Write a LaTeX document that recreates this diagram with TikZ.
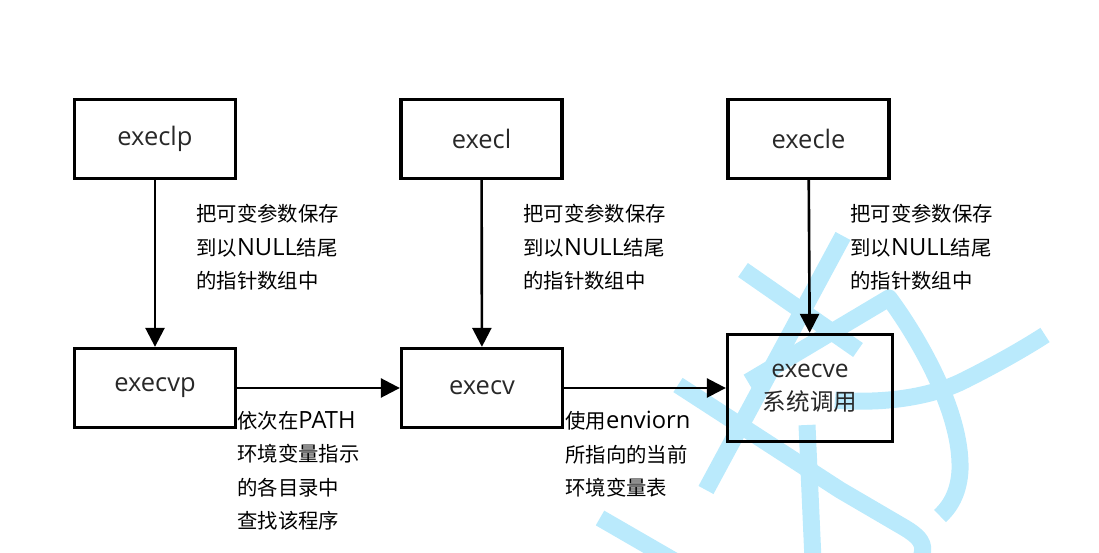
\documentclass[tikz,border=0pt]{standalone}
\usepackage{fontspec}
\setmainfont{Open Sans}
\newfontfamily\cjkfont{Noto Sans CJK SC}
% CJK runs inside mixed labels
\newcommand\zh[1]{{\cjkfont\fontsize{11.6}{19}\selectfont #1}}
\newcommand\zhbig[1]{{\cjkfont\fontsize{13.4}{20}\selectfont #1}}
\usetikzlibrary{arrows.meta}
\definecolor{wmblue}{RGB}{186,234,252}
\definecolor{labelgray}{RGB}{40,40,40}

\begin{document}
\begin{tikzpicture}[x=0.02cm,y=-0.02cm,
  fnbox/.style={draw=black, line width=1.9pt, minimum width=3.22cm,
    minimum height=1.58cm, inner sep=0pt, text=labelgray,
    font=\fontsize{14.5}{18}\selectfont},
  flow/.style={line width=1.5pt, -{Triangle[length=0.38cm,width=0.38cm]}},
  note/.style={anchor=north west, align=left, inner sep=0pt,
    font=\fontsize{13.5}{19}\selectfont},
  wm/.style={draw=wmblue, line width=0.34cm, line join=round}
]
\useasboundingbox (0,0) rectangle (1099,553);

% background stamp strokes
\draw[wm] (743,270) -- (858,350);
\draw[wm] (843,236) -- (706,490);
\draw[wm] (748,382) -- (889,298) .. controls (915,333) and (962,410) .. (960,470)
  .. controls (959,490) and (952,505) .. (940,516);
\draw[wm] (835,400) .. controls (880,404) and (930,398) .. (965,380)
  .. controls (995,365) and (1025,348) .. (1045,335);
\draw[wm] (678,385) -- (840,490) -- (905,528) .. controls (925,540) and (925,548) .. (920,560);
\draw[wm] (600,518) -- (690,570);
\draw[wm] (807,425) -- (813,560);

% function boxes
\node[fnbox] (execlp) at (155,139) {execlp};
\node[fnbox] (execl)  at (481.5,139) {execl};
\node[fnbox] (execle) at (808.5,139) {execle};
\node[fnbox] (execvp) at (155,388) {execvp};
\node[fnbox] (execv)  at (482,388) {execv};
\node[fnbox, minimum width=3.3cm, minimum height=2.14cm, align=center,
  font=\fontsize{14}{20}\selectfont] (execve) at (810,388)
  {execve\\[-1pt]\zhbig{系统调用}};

% call chain
\draw[flow] (execlp) -- (execvp);
\draw[flow] (execl) -- (execv);
\draw[flow] (execle) -- (execve);
\draw[flow] (execvp) -- (execv);
\draw[flow] (execv) -- (execve);

% explanations
\node[note] (n1) at (196,204) {\zh{把可变参数保存}\\\zh{到以}NULL\zh{结尾}\\\zh{的指针数组中}};
\node[note] (n2) at (523,204) {\zh{把可变参数保存}\\\zh{到以}NULL\zh{结尾}\\\zh{的指针数组中}};
\node[note] (n3) at (850,204) {\zh{把可变参数保存}\\\zh{到以}NULL\zh{结尾}\\\zh{的指针数组中}};
\node[note] (n4) at (237,411) {\zh{依次在}PATH\\\zh{环境变量指示}\\\zh{的各目录中}\\\zh{查找该程序}};
\node[note] (n5) at (565,411) {\zh{使用}enviorn\\\zh{所指向的当前}\\\zh{环境变量表}};
\end{tikzpicture}
\end{document}
